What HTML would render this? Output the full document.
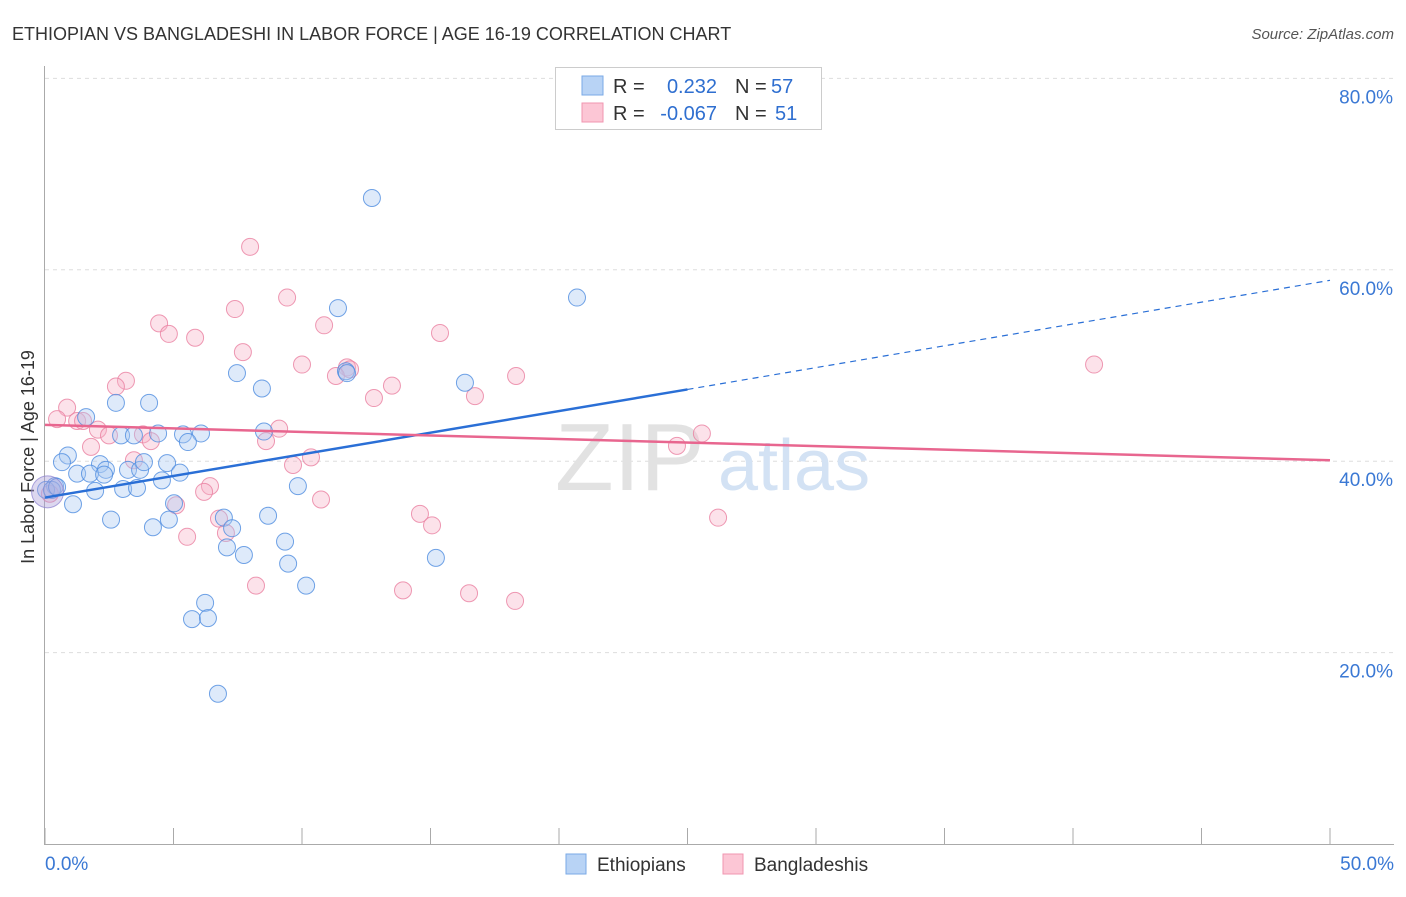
<!DOCTYPE html>
<html><head><meta charset="utf-8"><style>
body{margin:0;background:#fff;font-family:"Liberation Sans",sans-serif;}
svg text{font-family:"Liberation Sans",sans-serif;}
</style></head><body>
<svg id="chart" width="1406" height="892" xmlns="http://www.w3.org/2000/svg">
<text x="12" y="40" font-size="18" fill="#333">ETHIOPIAN VS BANGLADESHI IN LABOR FORCE | AGE 16-19 CORRELATION CHART</text>
<text x="1394" y="39" font-size="15" fill="#555" font-style="italic" text-anchor="end">Source: ZipAtlas.com</text>
<text transform="translate(34,457) rotate(-90)" font-size="18" fill="#333" text-anchor="middle">In Labor Force | Age 16-19</text>
<g id="grid"></g>
<g id="axes"></g>
<text x="555" y="490" font-size="96" fill="#e2e2e2" font-family="Liberation Serif">ZIP</text>
<text x="718" y="490" font-size="72" fill="#d3e2f4">atlas</text>
<g id="pts"></g>
<g id="lines"></g>
<g>
<rect x="555.5" y="67.5" width="266" height="62" fill="#fff" stroke="#ccc"/>
<rect x="582" y="76" width="21" height="19" fill="#b8d3f5" stroke="#7aa9e6"/>
<rect x="582" y="103" width="21" height="19" fill="#fcc6d5" stroke="#f096b0"/>
<text x="613" y="93" font-size="20" fill="#333">R =</text>
<text x="717" y="93" font-size="20" fill="#2f6fd0" text-anchor="end">0.232</text>
<text x="735" y="93" font-size="20" fill="#333">N =</text>
<text x="771" y="93" font-size="20" fill="#2f6fd0">57</text>
<text x="613" y="120" font-size="20" fill="#333">R =</text>
<text x="717" y="120" font-size="20" fill="#2f6fd0" text-anchor="end">-0.067</text>
<text x="735" y="120" font-size="20" fill="#333">N =</text>
<text x="775" y="120" font-size="20" fill="#2f6fd0">51</text>
</g>
<g>
<rect x="566" y="854" width="20" height="20" fill="#b8d3f5" stroke="#7aa9e6"/>
<text x="597" y="871" font-size="19" fill="#333">Ethiopians</text>
<rect x="723" y="854" width="20" height="20" fill="#fcc6d5" stroke="#f096b0"/>
<text x="754" y="871" font-size="19" fill="#333">Bangladeshis</text>
</g>
</svg>
<script>
const xTicksLabels=["0.0%","50.0%"];
const yTicks=[20,40,60,80];
const blueX=[12.72,20.70,11.40,7.47,8.44,16.34,11.71,2.76,4.05,1.60,2.96,3.46,4.40,5.37,6.07,5.56,8.52,0.89,0.66,2.14,2.37,1.25,1.75,2.30,3.23,3.70,3.85,4.75,5.25,4.55,0.39,0.04,1.95,3.04,3.58,1.09,9.84,5.02,2.57,4.82,6.96,4.20,7.28,8.68,7.08,7.74,9.34,9.46,15.21,10.16,6.23,5.72,6.34,6.73,0.27,0.47,11.75];
const blueY=[67.5,57.1,56.0,49.2,47.6,48.2,49.4,46.1,46.1,44.6,42.7,42.7,42.9,42.8,42.9,42.0,43.1,40.6,39.9,39.7,39.1,38.7,38.7,38.6,39.1,39.1,39.9,39.8,38.8,38.0,37.4,37.0,36.9,37.1,37.2,35.5,37.4,35.6,33.9,33.9,34.1,33.1,33.0,34.3,31.0,30.2,31.6,29.3,29.9,27.0,25.2,23.5,23.6,15.7,37.0,37.3,49.2];
const pinkX=[7.98,9.42,7.39,4.44,10.86,4.82,5.84,15.37,7.70,10.00,11.75,11.87,11.32,18.33,40.82,13.50,12.80,16.73,3.15,2.76,0.86,0.47,1.25,1.48,2.06,2.49,3.81,4.12,1.79,9.11,8.60,25.56,24.59,9.65,10.35,3.46,6.42,6.19,10.74,5.10,14.59,15.06,26.19,6.77,7.04,5.53,8.21,13.93,16.50,18.29,0.19];
const pinkY=[62.4,57.1,55.9,54.4,54.2,53.3,52.9,53.4,51.4,50.1,49.8,49.6,48.9,48.9,50.1,47.9,46.6,46.8,48.4,47.8,45.6,44.4,44.2,44.2,43.3,42.7,42.8,42.1,41.5,43.4,42.1,42.9,41.6,39.6,40.4,40.1,37.4,36.8,36.0,35.4,34.5,33.3,34.1,34.0,32.5,32.1,27.0,26.5,26.2,25.4,36.6];
const blueTrend=[36.2,47.5,58.9];
const pinkTrend=[43.8,40.1];
const NS="http://www.w3.org/2000/svg";
const X=v=>45+v*25.7, Y=v=>844-v*9.57;
function mk(t,a,p){const e=document.createElementNS(NS,t);for(const k in a)e.setAttribute(k,a[k]);p.appendChild(e);return e;}
const grid=document.getElementById('grid'),axes=document.getElementById('axes');
yTicks.forEach(v=>{
 const l=mk('line',{x1:45,x2:1394,y1:Y(v),y2:Y(v),stroke:'#ddd','stroke-dasharray':'4,4'},grid);
 
 
 const t=mk('text',{x:1393,y:Y(v)+25,'font-size':19,fill:'#3a78d4','text-anchor':'end'},axes);
 t.textContent=v.toFixed(1)+'%';
 
 
});
mk('line',{x1:44.5,x2:44.5,y1:66,y2:845,stroke:'#aaa'},axes);
mk('line',{x1:44,x2:1394,y1:844.5,y2:844.5,stroke:'#aaa'},axes);
for(let i=0;i<=10;i++){mk('line',{x1:X(i*5),x2:X(i*5),y1:828,y2:844,stroke:'#aaa'},axes);}
let t0=mk('text',{x:45,y:870,'font-size':19,fill:'#3a78d4'},axes);t0.textContent=xTicksLabels[0];


let t1=mk('text',{x:1394,y:870,'font-size':19,fill:'#3a78d4','text-anchor':'end'},axes);t1.textContent=xTicksLabels[1];


const pts=document.getElementById('pts');
function dots(xs,ys,fill,stroke,name){xs.forEach((x,i)=>{
 const c=mk('circle',{cx:X(x),cy:Y(ys[i]),r:8.5,fill:fill,'fill-opacity':0.38,stroke:stroke,'stroke-opacity':0.8,'stroke-width':1},pts);
 
 
});}
dots(pinkX,pinkY,'#f8b4c8','#ea7fa0','point-bangladeshi');
dots(blueX,blueY,'#a9c9f2','#4d8ce0','point-ethiopian');
const big=mk('circle',{cx:X(0.1),cy:Y(36.8),r:16,fill:'#a79bd8','fill-opacity':0.4,stroke:'#8a7fcf','stroke-opacity':0.7},pts);


const lines=document.getElementById('lines');
const b1=mk('line',{x1:X(0),y1:Y(blueTrend[0]),x2:X(25),y2:Y(blueTrend[1]),stroke:'#2a6fd6','stroke-width':2.5},lines);


const b2=mk('line',{x1:X(25),y1:Y(blueTrend[1]),x2:X(50),y2:Y(blueTrend[2]),stroke:'#2a6fd6','stroke-width':1.2,'stroke-dasharray':'6,5'},lines);


const p1=mk('line',{x1:X(0),y1:Y(pinkTrend[0]),x2:X(50),y2:Y(pinkTrend[1]),stroke:'#e8668f','stroke-width':2.5},lines);


</script>
</body></html>
